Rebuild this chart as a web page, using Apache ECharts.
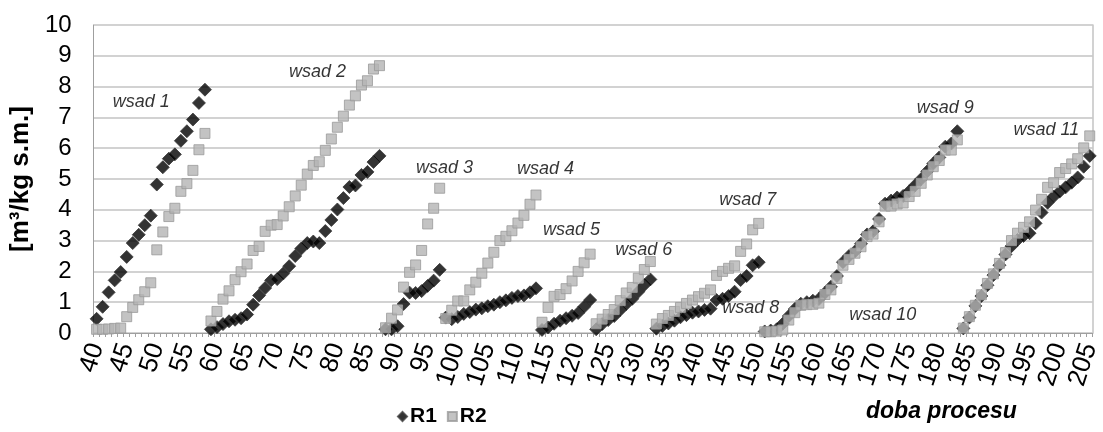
<!DOCTYPE html>
<html><head><meta charset="utf-8">
<script src="https://cdn.jsdelivr.net/npm/echarts@6/dist/echarts.min.js"></script>
<style>html,body{margin:0;padding:0;background:#fff}#c{width:1103px;height:432px}</style>
</head><body><div id="c"></div>
<script>
// Categories: process day 40..205
const firstDay = 40, lastDay = 205;
const days = [];
for (let d = firstDay; d <= lastDay; d++) days.push(String(d));

// R1 values, one per day 40..205
const r1Values = [
  // wsad 1 (40-58)
  0.46,0.85,1.32,1.71,1.98,2.47,2.92,3.19,3.5,3.81,4.82,5.38,5.66,5.8,6.24,6.55,6.93,7.47,7.9,
  // wsad 2 (59-87)
  0.12,0.19,0.29,0.38,0.43,0.48,0.6,0.92,1.22,1.46,1.71,1.75,1.93,2.17,2.5,2.74,2.92,2.97,2.92,3.31,3.67,4.01,4.38,4.74,4.79,5.13,5.23,5.55,5.75,
  // wsad 3 (88-97)
  0.12,0.12,0.22,0.94,1.31,1.3,1.36,1.53,1.7,2.05,
  // wsad 4 (98-113)
  0.5,0.45,0.52,0.62,0.68,0.76,0.8,0.87,0.92,1.0,1.06,1.14,1.2,1.22,1.32,1.45,
  // wsad 5 (114-122)
  0.1,0.18,0.3,0.4,0.48,0.56,0.65,0.85,1.07,
  // wsad 6 (123-132)
  0.12,0.29,0.42,0.55,0.75,0.94,1.11,1.34,1.56,1.74,
  // wsad 7 (133-150)
  0.14,0.23,0.31,0.4,0.51,0.58,0.66,0.7,0.75,0.79,1.07,1.11,1.2,1.34,1.72,1.85,2.2,2.3,
  // wsad 8-9 (151-183)
  0.05,0.08,0.12,0.3,0.55,0.78,0.95,1.0,1.05,1.1,1.3,1.5,1.85,2.3,2.5,2.65,2.9,3.2,3.3,3.7,4.2,4.3,4.4,4.45,4.6,4.8,5.0,5.25,5.5,5.7,6.05,6.15,6.55,
  // wsad 11 (184-205)
  0.15,0.5,0.88,1.2,1.55,1.88,2.2,2.55,2.82,3.02,3.15,3.24,3.56,3.91,4.23,4.43,4.59,4.73,4.88,5.05,5.4,5.75
];

// R2 values, one per day 40..205
const r2Values = [
  // wsad 1
  0.12,0.12,0.13,0.15,0.16,0.53,0.83,1.08,1.34,1.63,2.7,3.28,3.78,4.05,4.6,4.85,5.28,5.95,6.48,
  // wsad 2
  0.39,0.7,1.1,1.37,1.73,1.99,2.24,2.68,2.81,3.3,3.5,3.52,3.8,4.1,4.45,4.8,5.16,5.44,5.56,5.93,6.3,6.68,7.04,7.4,7.7,8.05,8.19,8.57,8.68,
  // wsad 3
  0.17,0.48,0.75,1.49,1.97,2.21,2.68,3.54,4.05,4.7,
  // wsad 4
  0.47,0.74,1.04,1.04,1.4,1.65,1.94,2.27,2.62,3.0,3.14,3.32,3.57,3.82,4.18,4.48,
  // wsad 5
  0.35,0.83,1.19,1.25,1.44,1.69,2.0,2.28,2.56,
  // wsad 6
  0.3,0.45,0.6,0.76,1.05,1.3,1.48,1.78,2.06,2.32,
  // wsad 7
  0.29,0.47,0.57,0.7,0.83,0.96,1.07,1.18,1.29,1.4,1.87,2.0,2.1,2.18,2.65,2.89,3.35,3.56,
  // wsad 8-9
  0.04,0.04,0.06,0.1,0.42,0.66,0.9,0.92,0.93,0.97,1.25,1.4,1.77,2.2,2.39,2.59,2.8,3.13,3.21,3.61,4.12,4.12,4.19,4.22,4.43,4.6,4.86,5.13,5.4,5.6,5.94,5.94,6.27,
  // wsad 11
  0.16,0.53,0.9,1.24,1.61,1.92,2.26,2.61,3.0,3.24,3.43,3.61,3.99,4.34,4.73,4.88,5.21,5.34,5.49,5.66,6.01,6.4
];

// Batch annotations: text and anchor (day, value)
const noteTexts = ['wsad 1','wsad 2','wsad 3','wsad 4','wsad 5','wsad 6','wsad 7','wsad 8','wsad 9','wsad 10','wsad 11'];
const noteDays  = [47.4, 76.7, 97.8, 114.6, 118.9, 130.9, 148.2, 148.7, 181.0, 170.6, 197.8];
const noteVals  = [7.5, 8.47, 5.36, 5.32, 3.33, 2.7, 4.33, 0.81, 7.32, 0.6, 6.6];

const yTicks = { min: 0, max: 10, interval: 1 };
const seriesNames = ['R1', 'R2'];
const xAxisTitle = 'doba procesu';
const yAxisTitle = '[m³/kg s.m.]';

const FONT = '"Liberation Sans", Arial, sans-serif';
const chart = echarts.init(document.getElementById('c'), null, { renderer: 'canvas' });

chart.setOption({
  backgroundColor: '#fff',
  animation: false,
  textStyle: { fontFamily: FONT },
  grid: { left: 91, right: 5, top: 25, bottom: 99, containLabel: false },
  legend: {
    data: [
      { name: seriesNames[0], icon: 'diamond' },
      { name: seriesNames[1], icon: 'rect' }
    ],
    left: 392, top: 401, itemWidth: 9, itemHeight: 9, itemGap: 10,
    textStyle: { fontFamily: FONT, fontSize: 21, fontWeight: 'bold', color: '#000', padding: [0, 0, 0, -2] }
  },
  xAxis: [{
    type: 'category', data: days, boundaryGap: true,
    axisLine: { lineStyle: { color: '#9f9f9f', width: 1 } },
    axisTick: { show: true, interval: 0, length: 4, lineStyle: { color: '#9f9f9f' } },
    axisLabel: { interval: 4, rotate: 72, fontSize: 26, color: '#000', fontFamily: FONT, margin: 11 },
    splitLine: { show: false }
  }, {
    type: 'value', min: firstDay - 0.5, max: lastDay + 0.5, show: false
  }],
  yAxis: [{
    type: 'value', min: yTicks.min, max: yTicks.max, interval: yTicks.interval,
    name: yAxisTitle, nameLocation: 'middle', nameGap: 51, nameRotate: 90,
    nameTextStyle: { fontFamily: FONT, fontSize: 26, fontWeight: 'bold', color: '#000' },
    axisLine: { show: true, lineStyle: { color: '#9f9f9f' } },
    axisTick: { show: false },
    axisLabel: { fontSize: 24, color: '#000', fontFamily: FONT, margin: 22 },
    splitLine: { lineStyle: { color: '#c3c3c3', width: 1.5 } }
  }, {
    type: 'value', position: 'right', min: yTicks.min, max: yTicks.max, interval: yTicks.interval,
    axisLine: { show: true, lineStyle: { color: '#c3c3c3', width: 1.5 } },
    axisTick: { show: false }, axisLabel: { show: false }, splitLine: { show: false }
  }],
  graphic: [{
    type: 'text', left: 866, top: 400,
    style: { text: xAxisTitle, font: 'italic bold 23px ' + FONT, fill: '#000' }
  }],
  series: [{
    name: seriesNames[0], type: 'scatter', symbol: 'diamond', symbolSize: 13,
    itemStyle: { color: '#000', borderColor: '#3a3a3a', borderWidth: 1 },
    data: r1Values, z: 2
  }, {
    name: seriesNames[1], type: 'scatter', symbol: 'rect', symbolSize: 10,
    itemStyle: { color: '#b4b4b4', borderColor: '#9a9a9a', borderWidth: 1 },
    data: r2Values, z: 3
  }, {
    name: 'notes', type: 'scatter', xAxisIndex: 1, symbolSize: 0, silent: true,
    data: noteTexts.map((t, i) => ({ name: t, value: [noteDays[i], noteVals[i]] })),
    label: { show: true, position: 'inside', formatter: p => p.name,
      fontFamily: FONT, fontSize: 18, fontStyle: 'italic', color: '#000' },
    z: 4
  }]
});
</script></body></html>
